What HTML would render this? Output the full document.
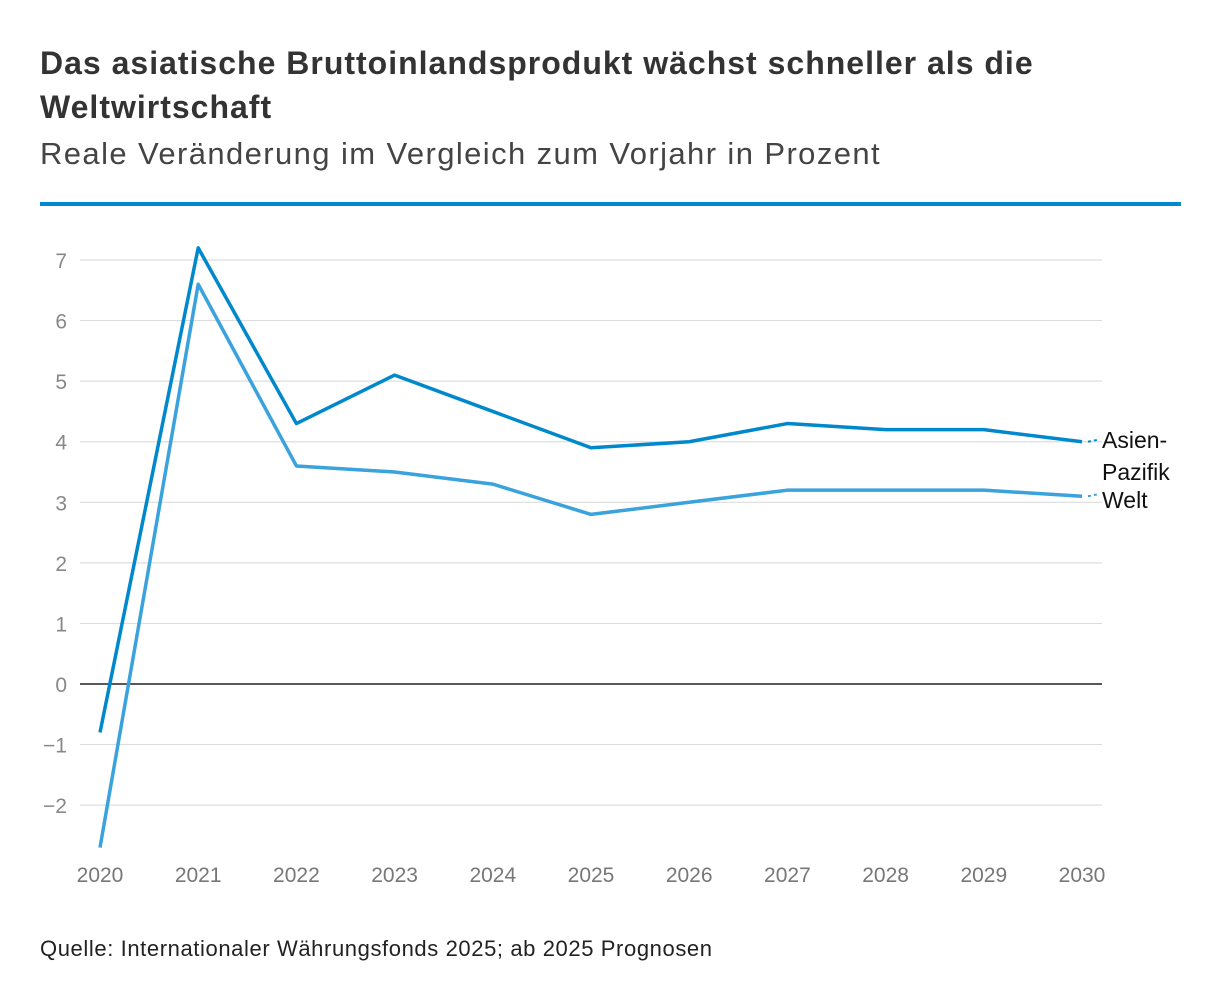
<!DOCTYPE html>
<html><head><meta charset="utf-8"><style>
body{margin:0;background:#fff;font-family:"Liberation Sans",sans-serif;}
#wrap{position:relative;width:1220px;height:1006px;overflow:hidden;}
.t{position:absolute;left:40px;margin:0;}
</style></head><body>
<div id="wrap">
<h1 class="t" style="top:41px;font-size:32px;line-height:44px;font-weight:bold;color:#333;width:1060px;letter-spacing:1px;">Das asiatische Bruttoinlandsprodukt wächst schneller als die Weltwirtschaft</h1>
<div class="t" style="top:136px;font-size:31px;color:#444;letter-spacing:1.4px;">Reale Veränderung im Vergleich zum Vorjahr in Prozent</div>
<div style="position:absolute;left:40px;top:202px;width:1141px;height:4px;background:#0088cc;"></div>
<svg id="chart" width="1220" height="1006" style="position:absolute;left:0;top:0"></svg>
<div class="t" style="top:936px;font-size:22px;color:#222;letter-spacing:0.6px;">Quelle: Internationaler Währungsfonds 2025; ab 2025 Prognosen</div>
</div>
<script>
const years=[2020,2021,2022,2023,2024,2025,2026,2027,2028,2029,2030];
const asia=[-0.8,7.2,4.3,5.1,4.5,3.9,4.0,4.3,4.2,4.2,4.0];
const welt=[-2.7,6.6,3.6,3.5,3.3,2.8,3.0,3.2,3.2,3.2,3.1];
const yTicks=[-2,-1,0,1,2,3,4,5,6,7];
const NS="http://www.w3.org/2000/svg";
const svg=document.getElementById('chart');
const x=i=>100+i*98.2;
const y=v=>684-v*60.57;
function mk(t,a){const e=document.createElementNS(NS,t);for(const k in a)e.setAttribute(k,a[k]);svg.appendChild(e);return e;}
yTicks.forEach(v=>{
 const l=mk('line',{x1:80,x2:1102,y1:y(v),y2:y(v),stroke:v===0?'#222':'#ddd','stroke-width':v===0?1.5:1.2});
 
 
 const t=mk('text',{x:67,y:y(v)+8,'text-anchor':'end','font-size':21,fill:'#888','font-family':'Liberation Sans,sans-serif'});
 t.textContent=v<0?'\u2212'+(-v):String(v);
 
 
});
years.forEach((yr,i)=>{
 const t=mk('text',{x:x(i),y:882,'text-anchor':'middle','font-size':21,fill:'#777','font-family':'Liberation Sans,sans-serif'});
 t.textContent=yr;
 
 
});
function series(vals,color,name,labels,ly){
 const p=mk('polyline',{points:vals.map((v,i)=>x(i)+','+y(v)).join(' '),fill:'none',stroke:color,'stroke-width':3.5,'stroke-linejoin':'round'});
 
 
 const n=vals.length-1;
 const c=mk('line',{x1:x(n)+6,y1:y(vals[n]),x2:x(n)+16,y2:y(vals[n])-2,stroke:color,'stroke-width':2,'stroke-dasharray':'3 3'});
 
 
 labels.forEach((s,k)=>{
  const t=mk('text',{x:1102,y:ly+k*32,'font-size':23,fill:'#111','font-family':'Liberation Sans,sans-serif'});
  t.textContent=s;
  
  
 });
}
series(welt,'#3aa2dc','welt',['Welt'],508);
series(asia,'#0088cc','asien-pazifik',['Asien-','Pazifik'],448);
</script>
</body></html>
